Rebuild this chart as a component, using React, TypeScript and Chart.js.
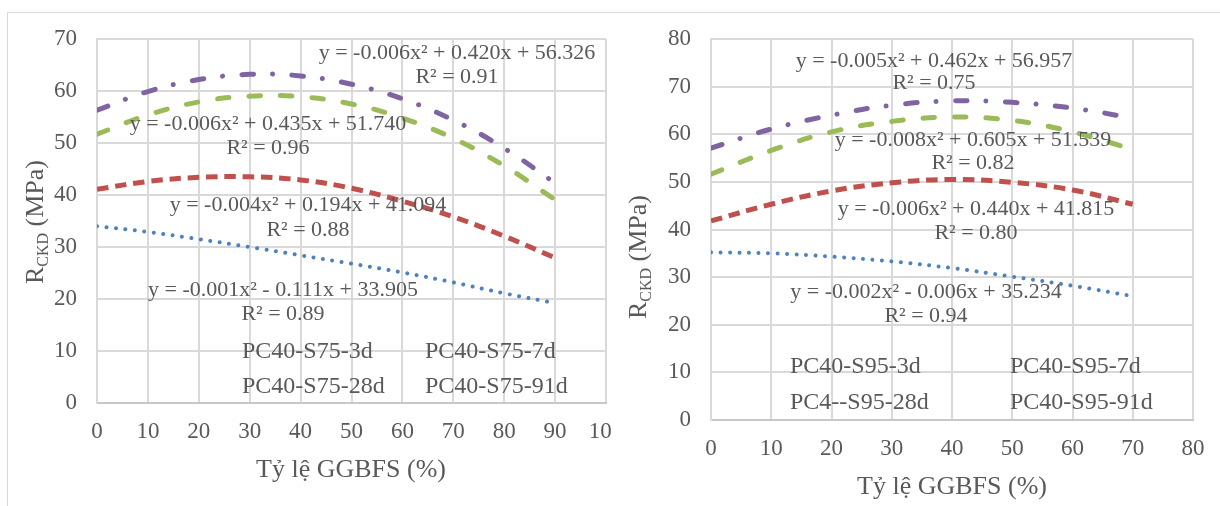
import React, { useEffect, useRef } from 'react';
import { Chart, registerables } from 'chart.js';

Chart.register(...registerables);

// ---------- DATA ----------
const leftX = [0, 10, 20, 30, 40, 50, 60, 70, 80, 90];
const left3d = [34.0, 32.9, 31.5, 30.0, 28.4, 26.8, 25.1, 23.2, 21.1, 19.2];
const left7d = [41.1, 42.6, 43.4, 43.5, 42.9, 41.3, 38.8, 35.8, 32.1, 27.9];
const left28d = [51.7, 55.4, 57.9, 59.0, 58.9, 57.5, 54.8, 50.9, 45.6, 39.1];
const left91d = [56.3, 59.9, 62.2, 63.2, 62.9, 61.3, 58.5, 54.4, 49.0, 42.3];
const leftNames = ['PC40-S75-3d', 'PC40-S75-7d', 'PC40-S75-28d', 'PC40-S75-91d'];
const leftEquations = [
  'y = -0.001x² - 0.111x + 33.905',
  'y = -0.004x² + 0.194x + 41.094',
  'y = -0.006x² + 0.435x + 51.740',
  'y = -0.006x² + 0.420x + 56.326',
];
const leftR2 = ['R² = 0.89', 'R² = 0.88', 'R² = 0.96', 'R² = 0.91'];

const rightX = [0, 10, 20, 30, 40, 50, 60, 70];
const right3d = [35.2, 35.0, 34.3, 33.3, 31.9, 30.1, 28.2, 26.0];
const right7d = [41.8, 45.3, 48.1, 49.8, 50.5, 49.9, 48.3, 45.3];
const right28d = [51.6, 56.6, 60.5, 62.7, 63.6, 62.9, 60.5, 56.8];
const right91d = [57.1, 61.1, 64.0, 66.1, 67.0, 66.7, 65.5, 63.4];
const rightNames = ['PC40-S95-3d', 'PC40-S95-7d', 'PC4--S95-28d', 'PC40-S95-91d'];
const rightEquations = [
  'y = -0.002x² - 0.006x + 35.234',
  'y = -0.006x² + 0.440x + 41.815',
  'y = -0.008x² + 0.605x + 51.539',
  'y = -0.005x² + 0.462x + 56.957',
];
const rightR2 = ['R² = 0.94', 'R² = 0.80', 'R² = 0.82', 'R² = 0.75'];

const xTitleText = 'Tỷ lệ GGBFS (%)';
const yTitleMain = 'R';
const yTitleSub = 'CKD';
const yTitleRest = ' (MPa)';

// ---------- STYLE ----------
const FONT = '"Liberation Serif", "Times New Roman", serif';
const TEXT = '#595959';
const GRID = '#d9d9d9';
const TICK_SIZE = 23;
const EQ_SIZE = 22;
const LEG_SIZE = 24;
const TITLE_SIZE = 26;
const SUB_SIZE = 16;

const lineStyles = [
  { color: '#4F81BD', width: 4, dash: [0.01, 9.5], cap: 'round' },
  { color: '#C0504D', width: 5, dash: [11.5, 6.8], cap: 'butt' },
  { color: '#9BBB59', width: 5, dash: [11.5, 20], cap: 'round' },
  { color: '#8064A2', width: 5, dash: [11.5, 19, 0.01, 19.5], cap: 'round' },
];

const leftPanel = {
  xs: leftX,
  series: [left3d, left7d, left28d, left91d],
  names: leftNames,
  eqs: leftEquations,
  r2: leftR2,
  xMax: 100,
  yMax: 70,
  yAxisWidth: 97,
  top: 39,
  xAxisHeight: 60,
  padBottom: 43,
  padRight: 54,
  eqPos: [
    [283, 290, 314],
    [308, 205, 230],
    [268, 124, 148],
    [457, 53, 77],
  ],
  legendPos: [
    [242, 352],
    [425, 352],
    [242, 387],
    [425, 387],
  ],
  yTitle: [34, 222],
  xTitle: [351, 470],
};

const RO = 612; // right canvas offset
const rightPanel = {
  xs: rightX,
  series: [right3d, right7d, right28d, right91d],
  names: rightNames,
  eqs: rightEquations,
  r2: rightR2,
  xMax: 80,
  yMax: 80,
  yAxisWidth: 711 - RO,
  top: 39,
  xAxisHeight: 50,
  padBottom: 36,
  padRight: 608 - (1193 - RO),
  eqPos: [
    [926 - RO, 292, 316],
    [976 - RO, 209, 233],
    [973 - RO, 140, 163],
    [934 - RO, 61, 83],
  ],
  legendPos: [
    [790 - RO, 367],
    [1010 - RO, 367],
    [790 - RO, 403],
    [1010 - RO, 403],
  ],
  yTitle: [637 - RO, 257],
  xTitle: [952 - RO, 487],
};

function textPlugin(p: any) {
  return {
    id: 'panelText',
    afterDatasetsDraw(chart: any) {
      const ctx = chart.ctx as CanvasRenderingContext2D;
      ctx.save();
      ctx.fillStyle = TEXT;
      ctx.textAlign = 'center';
      ctx.textBaseline = 'middle';
      ctx.font = `${EQ_SIZE}px ${FONT}`;
      p.eqs.forEach((eq: string, i: number) => {
        const [cx, y1, y2] = p.eqPos[i];
        ctx.fillText(eq, cx, y1);
        ctx.fillText(p.r2[i], cx, y2);
      });
      ctx.textAlign = 'left';
      ctx.font = `${LEG_SIZE}px ${FONT}`;
      chart.data.datasets.forEach((ds: any, i: number) => {
        const [x, y] = p.legendPos[i];
        ctx.fillText(ds.label, x, y);
      });
      ctx.textAlign = 'center';
      ctx.font = `${TITLE_SIZE}px ${FONT}`;
      ctx.fillText(xTitleText, p.xTitle[0], p.xTitle[1]);

      ctx.translate(p.yTitle[0], p.yTitle[1]);
      ctx.rotate(-Math.PI / 2);
      ctx.textAlign = 'left';
      ctx.textBaseline = 'alphabetic';
      const big = `${TITLE_SIZE}px ${FONT}`;
      const small = `${SUB_SIZE}px ${FONT}`;
      ctx.font = big;
      const wR = ctx.measureText(yTitleMain).width;
      const wRest = ctx.measureText(yTitleRest).width;
      ctx.font = small;
      const wSub = ctx.measureText(yTitleSub).width;
      let x = -(wR + wSub + wRest) / 2;
      const base = TITLE_SIZE * 0.33;
      ctx.font = big;
      ctx.fillText(yTitleMain, x, base);
      x += wR;
      ctx.font = small;
      ctx.fillText(yTitleSub, x, base + 5);
      x += wSub;
      ctx.font = big;
      ctx.fillText(yTitleRest, x, base);
      ctx.restore();
    },
  };
}

function buildConfig(p: any): any {
  return {
    type: 'line',
    data: {
      datasets: p.series.map((vals: number[], i: number) => ({
        label: p.names[i],
        data: vals.map((v, j) => ({ x: p.xs[j], y: v })),
        borderColor: lineStyles[i].color,
        borderWidth: lineStyles[i].width,
        borderDash: lineStyles[i].dash,
        borderCapStyle: lineStyles[i].cap,
        borderJoinStyle: 'round',
        pointRadius: 0,
        fill: false,
        tension: 0.4,
      })),
    },
    options: {
      responsive: false,
      animation: false,
      events: [],
      layout: { padding: { left: 0, top: p.top, right: p.padRight, bottom: p.padBottom } },
      plugins: {
        legend: { display: false },
        tooltip: { enabled: false },
        title: { display: false },
      },
      scales: {
        x: {
          type: 'linear',
          min: 0,
          max: p.xMax,
          ticks: {
            stepSize: 10,
            color: TEXT,
            font: { family: FONT, size: TICK_SIZE },
            padding: 15,
            maxRotation: 0,
            autoSkip: false,
          },
          grid: { color: GRID, lineWidth: 2, drawTicks: false },
          border: { color: '#c8c8c8', width: 2 },
          afterFit: (s: any) => {
            s.height = p.xAxisHeight;
            s.paddingLeft = 0;
            s.paddingRight = 0;
          },
        },
        y: {
          type: 'linear',
          min: 0,
          max: p.yMax,
          ticks: {
            stepSize: 10,
            color: TEXT,
            font: { family: FONT, size: TICK_SIZE },
            padding: 20,
          },
          grid: { color: GRID, lineWidth: 2, drawTicks: false },
          border: { color: GRID, width: 2 },
          afterFit: (s: any) => {
            s.width = p.yAxisWidth;
          },
        },
      },
    },
    plugins: [textPlugin(p)],
  };
}

export default function App() {
  const leftRef = useRef<HTMLCanvasElement>(null);
  const rightRef = useRef<HTMLCanvasElement>(null);

  useEffect(() => {
    const c1 = new Chart(leftRef.current as HTMLCanvasElement, buildConfig(leftPanel));
    const c2 = new Chart(rightRef.current as HTMLCanvasElement, buildConfig(rightPanel));
    return () => {
      c1.destroy();
      c2.destroy();
    };
  }, []);

  return (
    <div
      style={{
        position: 'fixed',
        left: 0,
        top: 0,
        width: 1220,
        height: 506,
        overflow: 'hidden',
        background: '#ffffff',
      }}
    >
      <div
        style={{
          position: 'absolute',
          left: 7,
          top: 12,
          width: 1400,
          height: 700,
          border: '1.5px solid #d9d9d9',
          boxSizing: 'border-box',
        }}
      />
      <div style={{ position: 'absolute', left: 0, top: 0, width: 612, height: 506, overflow: 'hidden' }}>
        <canvas ref={leftRef} width={660} height={506} style={{ width: 660, height: 506, display: 'block' }} />
      </div>
      <div style={{ position: 'absolute', left: RO, top: 0, width: 608, height: 506, overflow: 'hidden' }}>
        <canvas ref={rightRef} width={608} height={506} style={{ width: 608, height: 506, display: 'block' }} />
      </div>
    </div>
  );
}
